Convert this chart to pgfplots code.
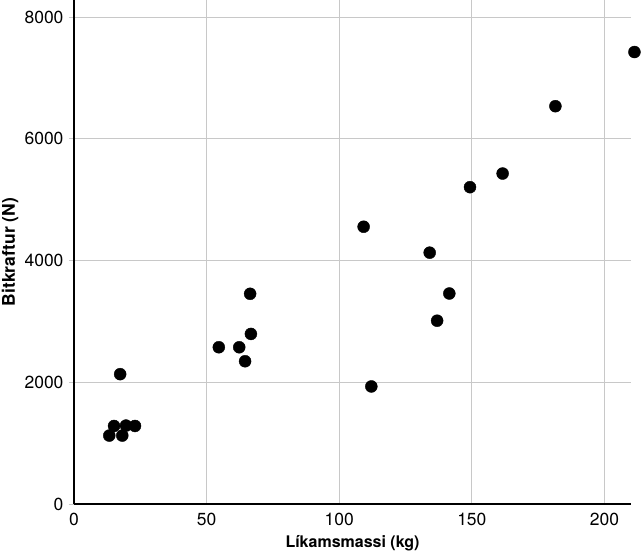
\documentclass[border=0pt]{standalone}
\usepackage{pgfplots}
\pgfplotsset{compat=1.18}
\usepackage{fontspec}
\setmainfont{TeX Gyre Heros}
\definecolor{gridgray}{HTML}{C8C8C8}
\begin{document}
\begin{tikzpicture}
\useasboundingbox (-74pt,-51pt) rectangle (567pt,504pt);
\begin{axis}[
  at={(0,0)}, anchor=south west,
  scale only axis,
  width=557pt, height=504pt,
  xmin=0, xmax=210, ymin=0, ymax=8280,
  axis x line*=bottom, axis y line*=left,
  axis line style={black, line width=1.5pt, -},
  xtick={0,50,100,150,200},
  ytick={0,2000,4000,6000,8000},
  grid=major,
  major grid style={gridgray, line width=0.8pt},
  /pgf/number format/assume math mode=true,
  /pgf/number format/1000 sep={},
  tick style={gridgray, line width=0.8pt},
  x tick style={draw=none},
  ytick pos=left, xtick pos=bottom,
  tick align=outside,
  major tick length=5pt,
  ticklabel style={font=\fontsize{17.5}{20}\selectfont},
  xticklabel style={yshift=-1pt},
  yticklabel style={xshift=-2pt},
  xlabel={\textbf{Líkamsmassi (kg)}},
  ylabel={\textbf{Bitkraftur (N)}},
  xlabel style={font=\fontsize{16}{19}\selectfont, at={(axis description cs:0.5,-0.0873)}, anchor=base},
  ylabel style={font=\fontsize{17.5}{20}\selectfont, at={(axis description cs:-0.1145,0.5)}, anchor=center},
  clip=false,
]
\addplot[only marks, mark=*, mark size=6pt, black] coordinates {
 (13.3,1124) (15.1,1282) (17.4,2133) (18.2,1124) (19.6,1288) (23.0,1282)
 (54.6,2575) (62.3,2575) (64.5,2345) (66.7,2794) (66.4,3453)
 (109.2,4555) (112.1,1931) (134.1,4129) (136.9,3011) (141.5,3458)
 (149.3,5205) (161.6,5429) (181.5,6535) (211.3,7425)
};
\end{axis}
\end{tikzpicture}
\end{document}
